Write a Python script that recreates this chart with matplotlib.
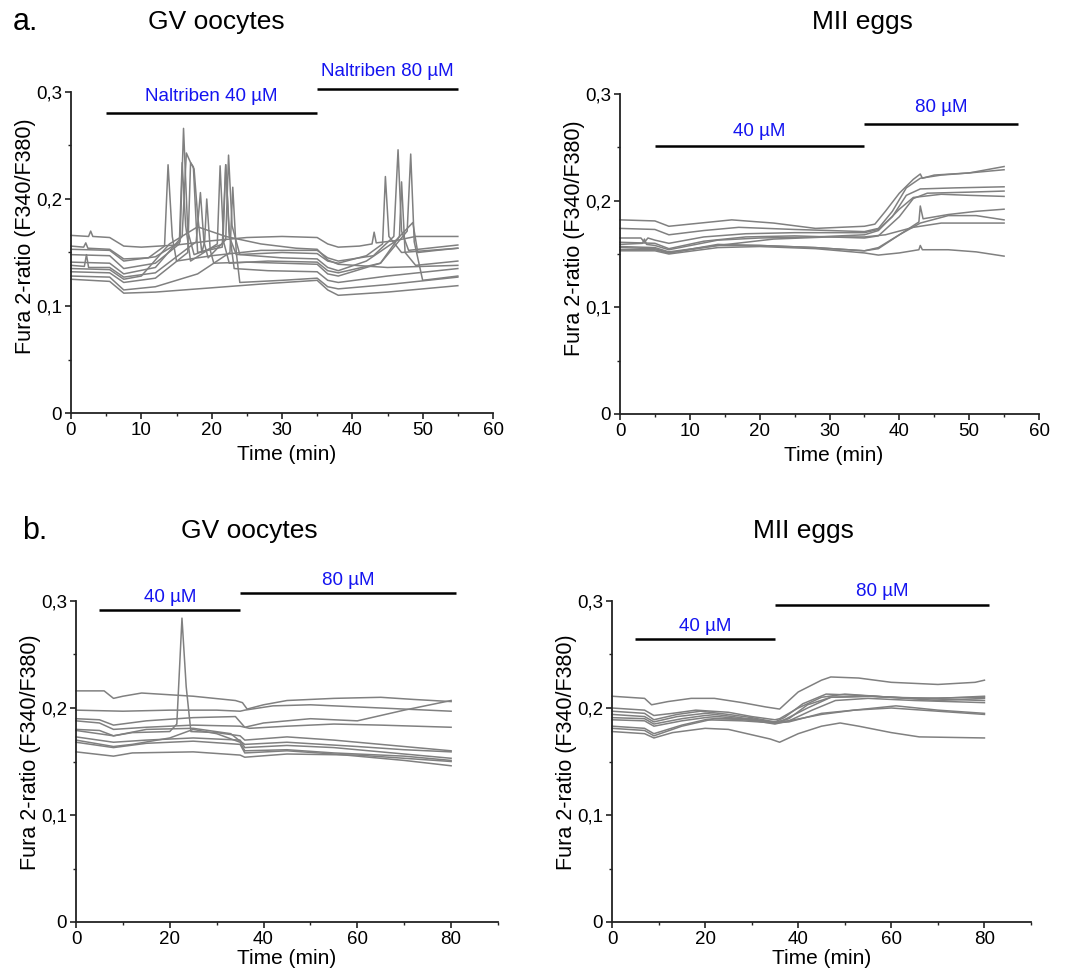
import matplotlib
matplotlib.use("Agg")
import matplotlib.pyplot as plt
from matplotlib.ticker import MultipleLocator, FuncFormatter

plt.rcParams['font.family'] = ['Liberation Sans', 'DejaVu Sans']

# ---- a. GV oocytes (0-55 min) ----
gv_a_times = [
    [0, 2.5, 2.8, 3.1, 5.5, 7.5, 10, 15, 20, 25, 30, 35, 36.5, 38, 41, 42.8, 43.1, 43.4, 46, 49, 55],
    [0, 1.8, 2.1, 2.4, 5.5, 7.5, 11, 13.3, 13.8, 14.4, 15, 20, 27, 35, 36.5, 38, 43, 45.9, 46.5, 47.0, 48, 55],
    [0, 5.5, 7.5, 12, 15.5, 16.0, 16.6, 17.5, 21.6, 22.0, 22.5, 23.5, 30, 35, 36.5, 38, 42, 44.3, 44.7, 45.2, 47, 55],
    [0, 5.5, 7.5, 12, 15.4, 15.8, 16.3, 17, 20.8, 21.2, 21.7, 22.5, 28, 35, 36.5, 38, 44, 47.8, 48.3, 48.8, 50, 55],
    [0, 5.5, 7.5, 12, 15.8, 16.4, 17.0, 17.5, 18.0, 18.6, 19.0, 19.3, 19.8, 20.3, 25, 35, 36.5, 38, 44, 46.7, 47.0, 47.5, 49, 55],
    [0, 1.9, 2.2, 2.5, 5.5, 7.5, 12, 17.8, 18.4, 18.9, 19.5, 22.0, 22.4, 22.9, 24, 30, 35, 36.5, 38, 42, 46, 48.6, 49.3, 52, 55],
    [0, 5.5, 7.5, 10, 14, 18, 22, 27, 32, 35, 36.5, 38, 45, 50, 55],
    [0, 5.5, 7.5, 12, 16.6, 17.0, 17.4, 18.0, 21.5, 22.0, 22.5, 23.2, 28, 35, 36.5, 38, 45, 55],
    [0, 5.5, 7.5, 12, 18, 22.6, 23.0, 23.5, 24.0, 30, 35, 36.5, 38, 45, 55],
    [0, 5.5, 7.5, 12, 20, 28, 35, 36.5, 38, 45, 55],
]
gv_a_ratios = [
    [0.166, 0.165, 0.170, 0.165, 0.164, 0.156, 0.155, 0.157, 0.161, 0.164, 0.165, 0.164, 0.158, 0.155, 0.156, 0.158, 0.169, 0.159, 0.161, 0.165, 0.165],
    [0.156, 0.155, 0.159, 0.154, 0.153, 0.144, 0.145, 0.156, 0.232, 0.165, 0.142, 0.147, 0.152, 0.152, 0.145, 0.142, 0.147, 0.165, 0.246, 0.170, 0.152, 0.157],
    [0.153, 0.152, 0.142, 0.146, 0.160, 0.266, 0.170, 0.148, 0.158, 0.232, 0.165, 0.148, 0.150, 0.149, 0.142, 0.140, 0.147, 0.158, 0.221, 0.165, 0.150, 0.154],
    [0.148, 0.147, 0.135, 0.140, 0.158, 0.234, 0.175, 0.142, 0.158, 0.231, 0.160, 0.140, 0.142, 0.141, 0.133, 0.131, 0.140, 0.170, 0.242, 0.160, 0.124, 0.128],
    [0.141, 0.140, 0.130, 0.136, 0.165, 0.243, 0.234, 0.228, 0.185, 0.150, 0.160, 0.200, 0.152, 0.140, 0.141, 0.139, 0.130, 0.128, 0.140, 0.165, 0.216, 0.150, 0.138, 0.142],
    [0.138, 0.137, 0.148, 0.136, 0.136, 0.127, 0.131, 0.160, 0.206, 0.160, 0.145, 0.162, 0.241, 0.175, 0.148, 0.145, 0.144, 0.136, 0.133, 0.142, 0.160, 0.178, 0.150, 0.152, 0.154],
    [0.135, 0.134, 0.125, 0.128, 0.158, 0.174, 0.165, 0.158, 0.154, 0.153, 0.143, 0.139, 0.136, 0.137, 0.138],
    [0.132, 0.131, 0.122, 0.126, 0.150, 0.234, 0.230, 0.150, 0.155, 0.232, 0.170, 0.135, 0.133, 0.132, 0.124, 0.122, 0.128, 0.135],
    [0.128, 0.127, 0.115, 0.118, 0.130, 0.150, 0.211, 0.150, 0.122, 0.124, 0.126, 0.118, 0.116, 0.120, 0.127],
    [0.125, 0.123, 0.112, 0.113, 0.117, 0.121, 0.124, 0.115, 0.110, 0.113, 0.119],
]

# ---- a. MII eggs (0-55 min) ----
mii_a_times = [
    [0, 5, 7, 10, 16, 22, 28, 35, 36.5, 38, 40, 42, 43, 43.3, 45, 50, 55],
    [0, 5, 7, 12, 17, 25, 35, 37, 39, 41, 43, 46, 50, 55],
    [0, 3, 3.5, 4, 5, 7, 12, 18, 25, 35, 37, 39, 41, 43, 48, 55],
    [0, 5, 7, 12, 18, 25, 35, 37, 40, 42, 44, 50, 55],
    [0, 3.2, 3.5, 3.8, 5, 7, 14, 20, 28, 35, 37, 40, 42, 46, 50, 55],
    [0, 5, 7, 14, 20, 28, 35, 37, 40, 42.8, 43, 43.4, 47, 51, 55],
    [0, 5, 7, 14, 20, 28, 35, 37, 40, 43, 47, 51, 55],
    [0, 5, 7, 14, 22, 30, 35, 38, 42, 46, 55],
    [0, 5, 7, 14, 20, 28, 35, 37, 40, 42.8, 43, 43.3, 47, 51, 55],
]
mii_a_ratios = [
    [0.182, 0.181, 0.176, 0.178, 0.182, 0.179, 0.174, 0.176, 0.178, 0.190, 0.207, 0.220, 0.225, 0.221, 0.224, 0.226, 0.232],
    [0.174, 0.173, 0.168, 0.172, 0.175, 0.173, 0.171, 0.174, 0.190, 0.212, 0.221, 0.224, 0.226, 0.229],
    [0.165, 0.165, 0.161, 0.165, 0.163, 0.160, 0.166, 0.169, 0.170, 0.170, 0.173, 0.185, 0.205, 0.211, 0.212, 0.213],
    [0.161, 0.160, 0.155, 0.162, 0.166, 0.167, 0.165, 0.167, 0.185, 0.202, 0.207, 0.208, 0.209],
    [0.159, 0.160, 0.164, 0.159, 0.158, 0.154, 0.163, 0.165, 0.166, 0.168, 0.172, 0.192, 0.203, 0.206, 0.205, 0.204],
    [0.157, 0.156, 0.152, 0.158, 0.158, 0.156, 0.153, 0.155, 0.168, 0.180, 0.195, 0.183, 0.187, 0.190, 0.192],
    [0.156, 0.155, 0.151, 0.159, 0.158, 0.156, 0.153, 0.156, 0.168, 0.179, 0.186, 0.186, 0.182],
    [0.154, 0.154, 0.151, 0.158, 0.164, 0.166, 0.166, 0.168, 0.175, 0.179, 0.179],
    [0.153, 0.153, 0.150, 0.156, 0.157, 0.155, 0.151, 0.149, 0.151, 0.154, 0.158, 0.154, 0.154, 0.152, 0.148],
]

# ---- b. GV oocytes (0-80 min) ----
gv_b_times = [
    [0, 6, 8, 10, 14, 25, 34, 35.5, 36.5, 40, 45, 55, 65, 72, 80],
    [0, 10, 20, 30, 35, 36, 42, 50, 60, 70, 80],
    [0, 5, 8, 15, 25, 34, 36, 40, 50, 60, 70, 80],
    [0, 5, 8, 15, 25, 35, 37, 45, 55, 65, 80],
    [0, 5, 8, 12, 20, 21.5, 22.6, 23.5, 24.5, 30, 35, 36, 45, 55, 65, 80],
    [0, 8, 15, 25, 33, 35, 36, 45, 60, 70, 80],
    [0, 8, 15, 25, 35, 36, 45, 55, 70, 80],
    [0, 8, 12, 20, 25, 30, 35, 36, 45, 55, 70, 80],
    [0, 8, 15, 25, 35, 36, 45, 55, 70, 80],
    [0, 8, 12, 25, 35, 36, 45, 60, 70, 80],
]
gv_b_ratios = [
    [0.216, 0.216, 0.209, 0.211, 0.214, 0.211, 0.207, 0.205, 0.199, 0.203, 0.207, 0.209, 0.210, 0.208, 0.206],
    [0.198, 0.197, 0.198, 0.198, 0.197, 0.198, 0.202, 0.203, 0.201, 0.199, 0.197],
    [0.190, 0.189, 0.184, 0.188, 0.191, 0.192, 0.182, 0.186, 0.190, 0.188, 0.198, 0.207],
    [0.188, 0.186, 0.180, 0.182, 0.184, 0.183, 0.181, 0.183, 0.185, 0.184, 0.182],
    [0.180, 0.179, 0.174, 0.177, 0.178, 0.185, 0.284, 0.220, 0.178, 0.177, 0.174, 0.170, 0.173, 0.170, 0.166, 0.160],
    [0.179, 0.174, 0.180, 0.181, 0.176, 0.169, 0.166, 0.168, 0.164, 0.161, 0.159],
    [0.173, 0.168, 0.170, 0.172, 0.170, 0.163, 0.165, 0.163, 0.157, 0.153],
    [0.170, 0.164, 0.166, 0.172, 0.180, 0.176, 0.168, 0.160, 0.161, 0.158, 0.155, 0.151],
    [0.168, 0.163, 0.167, 0.169, 0.166, 0.158, 0.160, 0.157, 0.151, 0.146],
    [0.159, 0.155, 0.158, 0.159, 0.156, 0.154, 0.157, 0.156, 0.153, 0.150],
]

# ---- b. MII eggs (0-80 min) ----
mii_b_times = [
    [0, 7, 8.5, 12, 17, 22, 28, 33, 36, 40, 45, 47, 53, 60, 70, 78, 80],
    [0, 7, 9, 13, 18, 25, 30, 35, 36, 40, 45, 50, 60, 70, 80],
    [0, 7, 9, 14, 19, 25, 30, 35, 37, 41, 46, 52, 60, 70, 80],
    [0, 7, 9, 14, 20, 26, 35, 37, 42, 47, 55, 65, 80],
    [0, 7, 9, 15, 20, 28, 35, 38, 43, 48, 55, 65, 80],
    [0, 7, 9, 15, 20, 28, 35, 38, 45, 52, 60, 70, 80],
    [0, 7, 9, 15, 20, 28, 35, 38, 45, 52, 61, 70, 80],
    [0, 7, 9, 15, 22, 30, 35, 38, 42, 47, 56, 65, 80],
    [0, 7, 9, 13, 20, 25, 30, 34, 36, 40, 45, 49, 53, 60, 66, 80],
]
mii_b_ratios = [
    [0.211, 0.209, 0.203, 0.206, 0.209, 0.209, 0.205, 0.201, 0.199, 0.215, 0.226, 0.229, 0.228, 0.224, 0.222, 0.224, 0.226],
    [0.200, 0.198, 0.193, 0.195, 0.198, 0.196, 0.192, 0.189, 0.190, 0.200, 0.210, 0.213, 0.210, 0.209, 0.211],
    [0.197, 0.195, 0.189, 0.194, 0.197, 0.194, 0.191, 0.187, 0.191, 0.204, 0.213, 0.212, 0.210, 0.207, 0.209],
    [0.194, 0.192, 0.187, 0.192, 0.195, 0.192, 0.186, 0.189, 0.200, 0.210, 0.211, 0.209, 0.207],
    [0.191, 0.190, 0.185, 0.190, 0.193, 0.190, 0.185, 0.188, 0.198, 0.207, 0.209, 0.207, 0.205],
    [0.189, 0.188, 0.183, 0.188, 0.191, 0.189, 0.187, 0.188, 0.194, 0.198, 0.200, 0.197, 0.194],
    [0.183, 0.181, 0.176, 0.184, 0.189, 0.188, 0.186, 0.187, 0.195, 0.198, 0.202, 0.198, 0.195],
    [0.181, 0.179, 0.174, 0.183, 0.190, 0.190, 0.186, 0.190, 0.203, 0.210, 0.211, 0.209, 0.210],
    [0.178, 0.176, 0.172, 0.177, 0.181, 0.180, 0.175, 0.171, 0.168, 0.176, 0.183, 0.186, 0.183, 0.177, 0.173, 0.172],
]

# treatment periods (start, end) and their labels
gv_a_periods = [(5, 35), (35, 55)]
gv_a_labels = ['Naltriben 40 µM', 'Naltriben 80 µM']
mii_a_periods = [(5, 35), (35, 57)]
b_periods = [(5, 35), (35, 81)]
short_labels = ['40 µM', '80 µM']

TRACE = '#808080'
BLUE = '#1414f0'


def ratio_fmt(v, pos):
    if abs(v) < 1e-9:
        return '0'
    return f'{v:.1f}'.replace('.', ',')


def style_axes(ax, xmax, xmajor, xminor):
    ax.set_xlim(0, xmax)
    ax.set_ylim(0, 0.3)
    ax.xaxis.set_major_locator(MultipleLocator(xmajor))
    ax.xaxis.set_minor_locator(MultipleLocator(xminor))
    ax.yaxis.set_major_locator(MultipleLocator(0.1))
    ax.yaxis.set_minor_locator(MultipleLocator(0.05))
    ax.yaxis.set_major_formatter(FuncFormatter(ratio_fmt))
    for s in ('top', 'right'):
        ax.spines[s].set_visible(False)
    for s in ('left', 'bottom'):
        ax.spines[s].set_linewidth(1.3)
        ax.spines[s].set_color('#222222')
    ax.tick_params(which='major', direction='out', length=4.5, width=1.2,
                   labelsize=13.5, pad=2, color='#222222')
    ax.tick_params(which='minor', direction='out', length=2.5, width=1.0, color='#222222')
    ax.set_ylabel('Fura 2-ratio (F340/F380)', fontsize=15.5)
    ax.set_xlabel('Time (min)', fontsize=15)


def draw_panel(ax, times, ratios, periods, labels, bar_y, text_y):
    for t, v in zip(times, ratios):
        ax.plot(t, v, color=TRACE, lw=1.1, clip_on=False)
    for (x0, x1), lab, by, ty in zip(periods, labels, bar_y, text_y):
        ax.plot([x0, x1], [by, by], color='black', lw=1.8, clip_on=False,
                solid_capstyle='butt')
        ax.text((x0 + x1) / 2, ty, lab, color=BLUE, fontsize=13.5,
                ha='center', va='center', clip_on=False)


fig = plt.figure(figsize=(10.83, 9.74), dpi=100)
W, H = 1083, 974


def add_ax(l, r, t, b):
    return fig.add_axes([l / W, 1 - b / H, (r - l) / W, (b - t) / H])


ax1 = add_ax(71, 493, 92, 413)
ax2 = add_ax(620, 1039, 94, 414)
ax3 = add_ax(76, 498, 601, 922)
ax4 = add_ax(612, 1031, 601, 922)

style_axes(ax1, 60, 10, 5)
style_axes(ax2, 60, 10, 5)
style_axes(ax3, 90, 20, 10)
style_axes(ax4, 90, 20, 10)
ax3.set_xticks([0, 20, 40, 60, 80])
ax4.set_xticks([0, 20, 40, 60, 80])

draw_panel(ax1, gv_a_times, gv_a_ratios, gv_a_periods, gv_a_labels,
           [0.280, 0.303], [0.2955, 0.319])
draw_panel(ax2, mii_a_times, mii_a_ratios, mii_a_periods, short_labels,
           [0.251, 0.272], [0.265, 0.287])
draw_panel(ax3, gv_b_times, gv_b_ratios, b_periods, short_labels,
           [0.2915, 0.3075], [0.3035, 0.3195])
draw_panel(ax4, mii_b_times, mii_b_ratios, b_periods, short_labels,
           [0.2645, 0.296], [0.2765, 0.3085])

for ax in (ax1, ax2):
    ax.yaxis.set_label_coords(-0.083, 0.55)
    ax.xaxis.set_label_coords(0.51, -0.10)
for ax in (ax3, ax4):
    ax.yaxis.set_label_coords(-0.083, 0.53)
    ax.xaxis.set_label_coords(0.5, -0.085)

fig.text(13 / W, 1 - 22 / H, 'a.', fontsize=22, va='center', ha='left')
fig.text(216 / W, 1 - 22 / H, 'GV oocytes', fontsize=19, va='center', ha='center')
fig.text(862 / W, 1 - 22 / H, 'MII eggs', fontsize=19, va='center', ha='center')
fig.text(22 / W, 1 - 531 / H, 'b.', fontsize=22, va='center', ha='left')
fig.text(249 / W, 1 - 531 / H, 'GV oocytes', fontsize=19, va='center', ha='center')
fig.text(803 / W, 1 - 531 / H, 'MII eggs', fontsize=19, va='center', ha='center')

fig.savefig('out.png', dpi=100, facecolor='white')
